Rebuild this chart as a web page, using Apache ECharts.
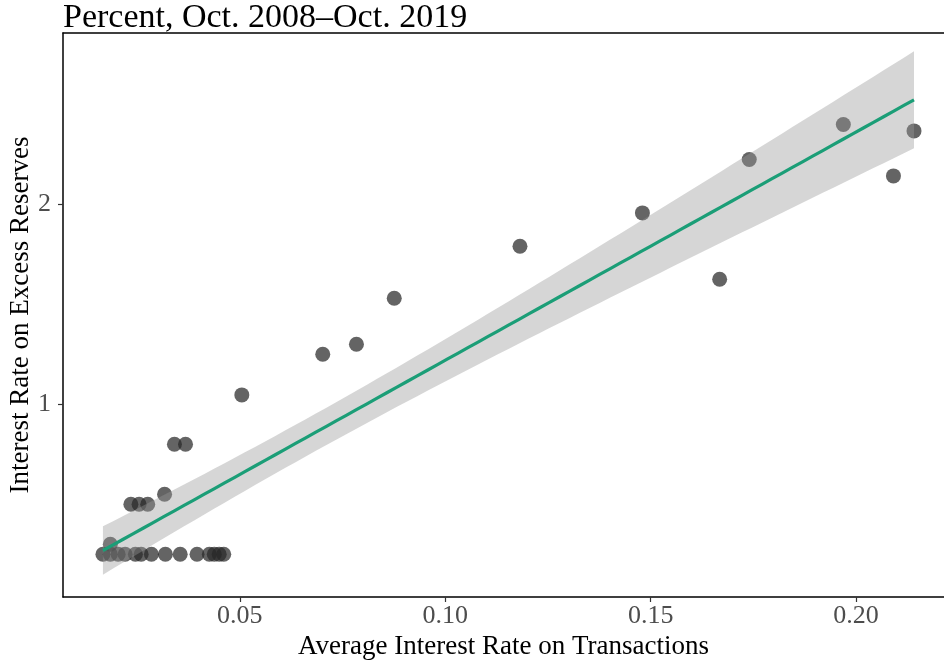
<!DOCTYPE html>
<html>
<head>
<meta charset="utf-8">
<script src="https://cdn.jsdelivr.net/npm/echarts@6.0.0/dist/echarts.min.js"></script>
<style>
  html, body { margin: 0; padding: 0; background: #fff; }
  #main { width: 944px; height: 661px; }
</style>
</head>
<body>
<div id="main"></div>
<script>
// average interest rate on transactions (x) vs IOER (y)
const rateTx = [
  0.0167, 0.0185, 0.0204, 0.0221, 0.0246, 0.0260, 0.0285, 0.0319, 0.0355, 0.0396,
  0.0426, 0.0438, 0.0450, 0.0461,
  0.0185,
  0.0235, 0.0255, 0.0276,
  0.0317,
  0.0341, 0.0368,
  0.0505, 0.0702, 0.0784, 0.0876, 0.1182, 0.1480, 0.1668, 0.1740, 0.1969, 0.2091, 0.2141
]
const ioer = [
  0.25, 0.25, 0.25, 0.25, 0.25, 0.25, 0.25, 0.25, 0.25, 0.25,
  0.25, 0.25, 0.25, 0.25,
  0.30,
  0.50, 0.50, 0.50,
  0.55,
  0.80, 0.80,
  1.047, 1.25, 1.30, 1.53, 1.79, 1.957, 1.625, 2.224, 2.399, 2.142, 2.367
]
const xTicks = [0.05, 0.10, 0.15, 0.20]
const yTicks = [1, 2]

const FONT = 'Liberation Serif'

// linear fit + 95% confidence band (like geom_smooth(method = "lm"))
const n = rateTx.length
const mx = rateTx.reduce((a, b) => a + b, 0) / n
const my = ioer.reduce((a, b) => a + b, 0) / n
let sxx = 0, sxy = 0
for (let i = 0; i < n; i++) {
  sxx += (rateTx[i] - mx) ** 2
  sxy += (rateTx[i] - mx) * (ioer[i] - my)
}
const slope = sxy / sxx
const icpt = my - slope * mx
let sse = 0
for (let i = 0; i < n; i++) sse += (ioer[i] - icpt - slope * rateTx[i]) ** 2
const sRes = Math.sqrt(sse / (n - 2))
const tCrit = 2.042
const x0 = Math.min(...rateTx), x1 = Math.max(...rateTx)
const fit = [], band = []
for (let k = 0; k <= 80; k++) {
  const x = x0 + (x1 - x0) * k / 80
  const yh = icpt + slope * x
  const se = sRes * Math.sqrt(1 / n + (x - mx) ** 2 / sxx)
  fit.push([x, yh])
  band.push([x, yh - tCrit * se, yh + tCrit * se])
}

const pts = rateTx.map((x, i) => [x, ioer[i]])

const chart = echarts.init(document.getElementById('main'))
chart.setOption({
  animation: false,
  title: {
    text: 'Percent, Oct. 2008\u2013Oct. 2019',
    left: 63, top: 1, padding: 0,
    textStyle: { fontFamily: FONT, fontSize: 34, fontWeight: 'normal', color: '#000' }
  },
  grid: { left: 63, right: 0, top: 33, bottom: 64, containLabel: false, outerBoundsMode: 'none' },
  xAxis: [{
    type: 'value', min: 0.00698, max: 0.2214,
    splitLine: { show: false },
    axisLine: { lineStyle: { color: '#000', width: 1.5 } },
    axisTick: { customValues: xTicks, length: 5, lineStyle: { color: '#333', width: 1.2 } },
    axisLabel: {
      customValues: xTicks, margin: 6,
      fontFamily: FONT, fontSize: 26, color: '#4d4d4d',
      formatter: v => v.toFixed(2)
    },
    name: 'Average Interest Rate on Transactions',
    nameLocation: 'middle', nameGap: 34,
    nameTextStyle: { fontFamily: FONT, fontSize: 27, color: '#000' }
  }, {
    type: 'value', position: 'top', min: 0.00698, max: 0.2214,
    splitLine: { show: false },
    axisLine: { lineStyle: { color: '#000', width: 1.5 } },
    axisTick: { show: false }, axisLabel: { show: false }
  }],
  yAxis: {
    type: 'value', min: 0.0365, max: 2.8565,
    splitLine: { show: false },
    axisLine: { lineStyle: { color: '#000', width: 1.5 } },
    axisTick: { customValues: yTicks, length: 5, lineStyle: { color: '#333', width: 1.2 } },
    axisLabel: {
      customValues: yTicks, margin: 12,
      fontFamily: FONT, fontSize: 26, color: '#4d4d4d'
    },
    name: 'Interest Rate on Excess Reserves',
    nameLocation: 'middle', nameGap: 29, nameMoveOverlap: false,
    nameTextStyle: { fontFamily: FONT, fontSize: 27, color: '#000' }
  },
  series: [
    {
      type: 'scatter', data: pts, symbolSize: 15, z: 2,
      itemStyle: { color: 'rgba(40,40,40,0.72)', opacity: 1 }
    },
    {
      type: 'custom', z: 3, data: band,
      renderItem: (params, api) => {
        if (params.dataIndex !== 0) return
        const up = band.map(d => api.coord([d[0], d[2]]))
        const lo = band.map(d => api.coord([d[0], d[1]])).reverse()
        return {
          type: 'polygon',
          shape: { points: up.concat(lo) },
          style: { fill: 'rgba(153,153,153,0.4)' }
        }
      }
    },
    {
      type: 'line', data: fit, showSymbol: false, z: 4,
      lineStyle: { color: '#1b9e77', width: 3.2 }
    }
  ]
})
</script>
</body>
</html>
